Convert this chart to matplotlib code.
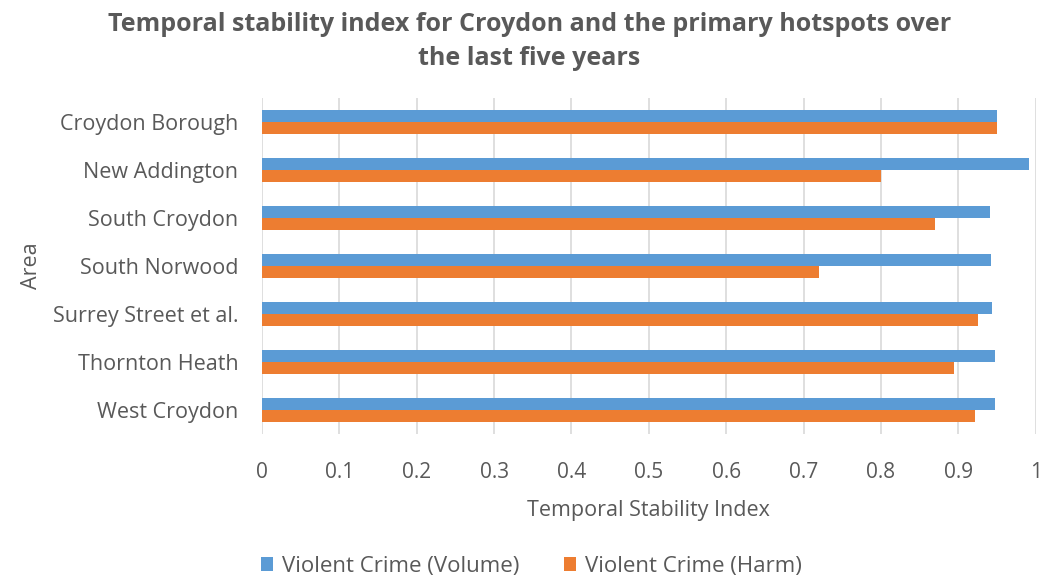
import numpy as np
import matplotlib
matplotlib.use("Agg")
import matplotlib.pyplot as plt

plt.rcParams["font.family"] = ["Open Sans", "DejaVu Sans"]

# data (top -> bottom as shown)
areas = ["Croydon Borough", "New Addington", "South Croydon", "South Norwood",
         "Surrey Street et al.", "Thornton Heath", "West Croydon"]
volume = [0.95, 0.992, 0.941, 0.942, 0.944, 0.947, 0.948]
harm = [0.95, 0.800, 0.870, 0.720, 0.925, 0.894, 0.921]
xticks = [0, 0.1, 0.2, 0.3, 0.4, 0.5, 0.6, 0.7, 0.8, 0.9, 1]

BLUE = "#5B9BD5"
ORANGE = "#ED7D31"
TXT = "#595959"

fig = plt.figure(figsize=(10.44, 5.79), dpi=100)
ax = fig.add_axes([0.251, 0.250, 0.741, 0.581])

y = np.arange(len(areas))
h = 0.25
ax.barh(y - h/2, volume, height=h, color=BLUE, label="Violent Crime (Volume)", zorder=3)
ax.barh(y + h/2, harm, height=h, color=ORANGE, label="Violent Crime (Harm)", zorder=3)

ax.set_ylim(len(areas) - 0.5, -0.5)
ax.set_xlim(0, 1)
ax.set_yticks(y)
ax.set_yticklabels(areas, fontsize=15.5, color=TXT)
ax.set_xticks(xticks)
ax.set_xticklabels([f"{v:g}" for v in xticks], fontsize=15, color=TXT)
ax.tick_params(axis="y", length=0, pad=17)
ax.tick_params(axis="x", length=0, pad=20)
for s in ax.spines.values():
    s.set_visible(False)
ax.grid(axis="x", color="#D9D9D9", linewidth=1.2, zorder=0)

ax.set_xlabel("Temporal Stability Index", fontsize=15.5, color=TXT, labelpad=12)
ax.set_ylabel("Area", fontsize=15.5, color=TXT, labelpad=8)

fig.suptitle("Temporal stability index for Croydon and the primary hotspots over\nthe last five years",
             x=0.507, y=0.98, fontsize=18, fontweight="bold", color=TXT, linespacing=1.5)

fig.legend(loc="center", bbox_to_anchor=(0.509, 0.022), ncol=2, frameon=False,
           fontsize=16, labelcolor=TXT, handlelength=0.55, handleheight=0.55,
           columnspacing=2.0, handletextpad=0.4)

fig.savefig("out.png", dpi=100)
